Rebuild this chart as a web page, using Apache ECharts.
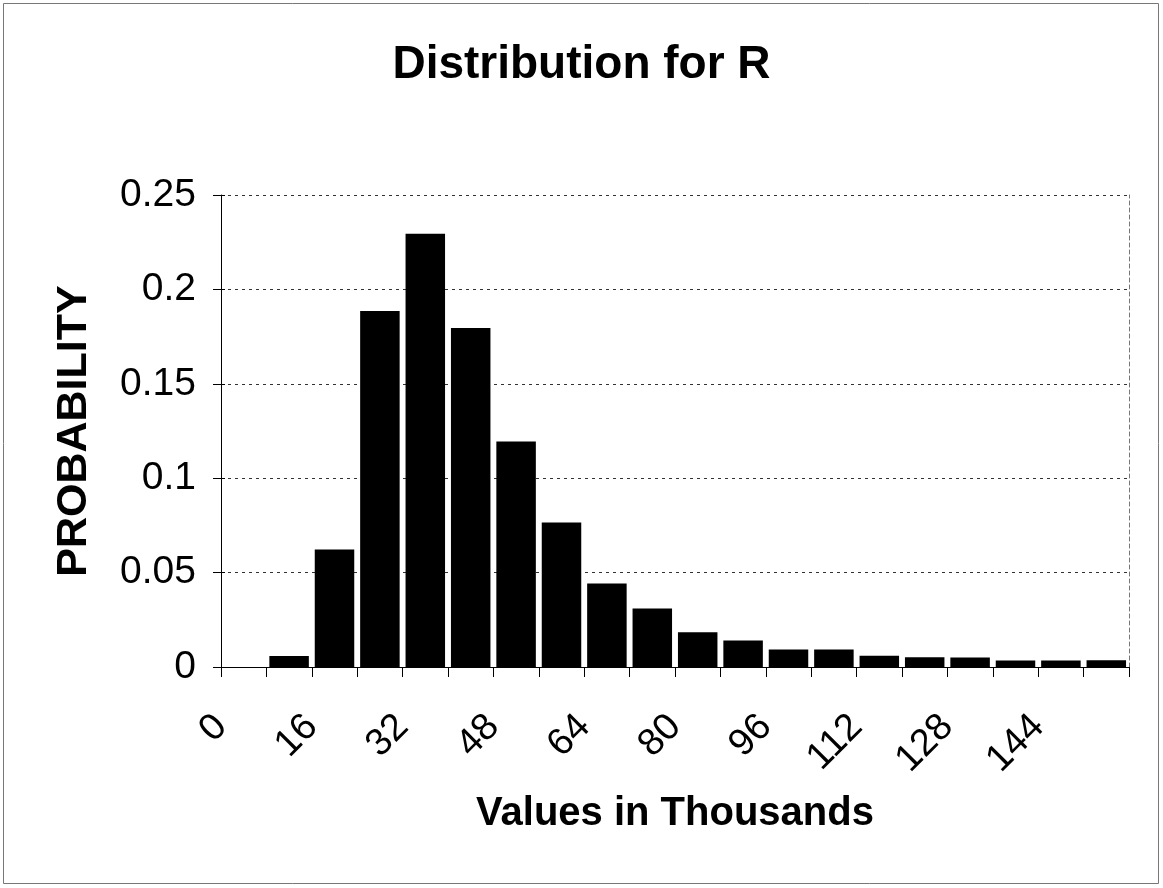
<!DOCTYPE html>
<html>
<head>
<meta charset="utf-8">
<script src="https://cdn.jsdelivr.net/npm/echarts@6/dist/echarts.min.js"></script>
<style>
html,body{margin:0;padding:0;background:#fff;}
#chart{width:1163px;height:888px;}
</style>
</head>
<body>
<div id="chart"></div>
<script>
// Bins of width 8 (thousands), 0..160
const binLabels = ['0-8','8-16','16-24','24-32','32-40','40-48','48-56','56-64','64-72','72-80',
                   '80-88','88-96','96-104','104-112','112-120','120-128','128-136','136-144','144-152','152-160'];
const probabilities = [0, 0.0058, 0.0623, 0.1885, 0.2295, 0.1795, 0.1195, 0.0765, 0.0442, 0.031,
                       0.0184, 0.014, 0.0093, 0.0093, 0.006, 0.0052, 0.005, 0.0035, 0.0035, 0.0036];
const xTickLabels = ['0','16','32','48','64','80','96','112','128','144'];
const yTickLabels = ['0','0.05','0.1','0.15','0.2','0.25'];

const FONT = "'Liberation Sans', Arial, sans-serif";
const chart = echarts.init(document.getElementById('chart'), null, {renderer: 'canvas'});

chart.setOption({
  backgroundColor: '#fff',
  animation: false,
  title: {
    text: 'Distribution for R',
    left: 'center',
    top: 37,
    textStyle: {fontFamily: FONT, fontSize: 46, fontWeight: 'bold', color: '#000'}
  },
  graphic: [{
    type: 'rect',
    shape: {x: 3.5, y: 3.5, width: 1155, height: 880},
    style: {fill: 'none', stroke: '#777', lineWidth: 1},
    silent: true
  }],
  grid: {left: 221, right: 34, top: 195, bottom: 221, containLabel: false},
  xAxis: [{
    type: 'category',
    data: binLabels,
    show: false
  }, {
    type: 'value',
    position: 'bottom',
    min: 0, max: 160, interval: 8,
    name: 'Values in Thousands',
    nameLocation: 'middle',
    nameGap: 127,
    nameTextStyle: {fontFamily: FONT, fontSize: 40, fontWeight: 'bold', color: '#000'},
    axisLine: {show: true, lineStyle: {color: '#000', width: 1}},
    axisTick: {show: true, length: 10, lineStyle: {color: '#000'}},
    axisLabel: {
      rotate: 45,
      margin: 54,
      fontFamily: FONT, fontSize: 38, color: '#000',
      formatter: function (v) { const s = String(v); return xTickLabels.indexOf(s) >= 0 ? s : ''; }
    },
    splitLine: {show: false}
  }],
  yAxis: [{
    type: 'value',
    min: 0, max: 0.25, interval: 0.05,
    name: 'PROBABILITY',
    nameLocation: 'middle',
    nameGap: 125,
    nameTextStyle: {fontFamily: FONT, fontSize: 43, fontWeight: 'bold', color: '#000'},
    axisLine: {show: true, lineStyle: {color: '#000', width: 1}},
    axisTick: {show: true, length: 8, lineStyle: {color: '#000'}},
    axisLabel: {
      margin: 25, fontFamily: FONT, fontSize: 39, color: '#000',
      formatter: function (v) { const s = String(+v.toFixed(2)); return yTickLabels.indexOf(s) >= 0 ? s : ''; }
    },
    splitLine: {show: true, lineStyle: {color: '#333', width: 1, type: [3, 4]}}
  }, {
    type: 'value',
    position: 'right',
    min: 0, max: 0.25, interval: 0.05,
    axisLine: {show: true, lineStyle: {color: '#777', width: 1, type: [4, 3]}},
    axisTick: {show: false},
    axisLabel: {show: false},
    splitLine: {show: false}
  }, {
    type: 'value',
    position: 'left',
    min: 0, max: 0.25, interval: 0.05,
    axisLine: {show: false},
    axisTick: {show: true, inside: true, length: 4, lineStyle: {color: '#000'}},
    axisLabel: {show: false},
    splitLine: {show: false}
  }],
  series: [{
    type: 'bar',
    xAxisIndex: 0,
    yAxisIndex: 0,
    data: probabilities,
    barCategoryGap: '13%',
    itemStyle: {color: '#000'},
    z: 3
  }]
});
</script>
</body>
</html>
